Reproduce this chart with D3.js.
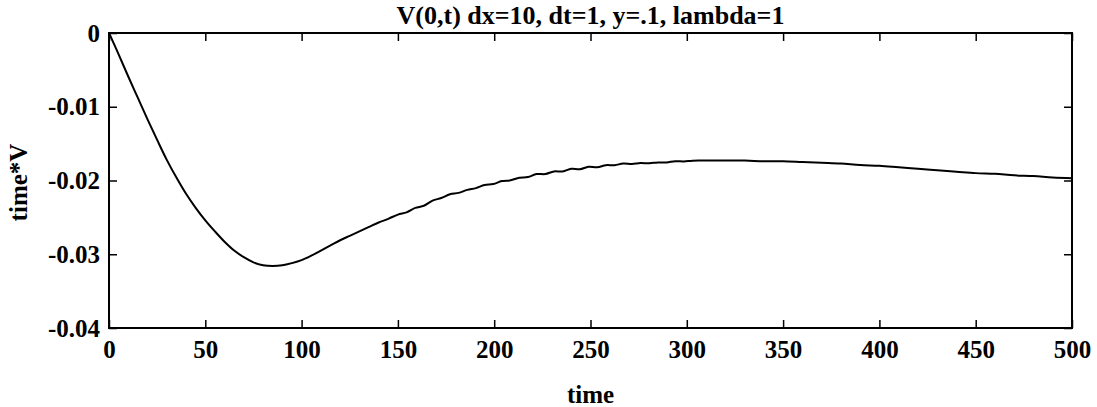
<!DOCTYPE html>
<html>
<head>
<meta charset="utf-8">
<script src="https://cdn.jsdelivr.net/npm/d3@7"></script>
<style>
  body { margin: 0; background: #fff; }
  text { font-family: "Liberation Serif", "Times New Roman", serif; font-weight: bold; fill: #000; }
</style>
</head>
<body>
<div id="container"></div>
<script>
/* DATA */
const time = [0, 5, 10, 15, 20, 25, 30, 35, 40, 45, 50, 55, 60, 65, 70, 75, 80, 85, 90, 95,
  100, 105, 110, 115, 120, 125, 130, 135, 140, 145,
  150, 154.5, 159, 163.5, 168, 172.5, 177, 181.5, 186, 190.5, 195, 199.5, 204, 208.5,
  213, 217.5, 222, 226.5, 231, 235.5, 240, 244.5, 249, 253.5, 258, 262.5, 267, 271.5,
  276, 280.5, 285, 289.5, 294, 298.5, 303,
  310, 320, 330, 340, 350, 360, 370, 380, 390, 400, 410, 420, 430, 440, 450, 460, 470, 480, 490, 500];
const timeV = [0, -0.0029, -0.0059, -0.0088, -0.0117, -0.0145, -0.0172, -0.0196, -0.0218, -0.0237,
  -0.0254, -0.0269, -0.0283, -0.0295, -0.0304, -0.0311, -0.0315, -0.0316, -0.0315, -0.0312,
  -0.0308, -0.0302, -0.0295, -0.0288, -0.0281, -0.0275, -0.0269, -0.0263, -0.0257, -0.0252,
  -0.02462, -0.02433, -0.02372, -0.02343, -0.02272, -0.02238, -0.02187, -0.02168, -0.02127, -0.02103,
  -0.02062, -0.02048, -0.02008, -0.01998, -0.01962, -0.01953, -0.01912, -0.01913, -0.01877, -0.01878,
  -0.01842, -0.01848, -0.01814, -0.01821, -0.01792, -0.01793, -0.01770, -0.01775, -0.01763, -0.01767,
  -0.01755, -0.01755, -0.01738, -0.01742, -0.01731,
  -0.0173, -0.0173, -0.0173, -0.0174, -0.0174, -0.0175, -0.0176, -0.0177, -0.0179, -0.0180,
  -0.0182, -0.0184, -0.0186, -0.0188, -0.0190, -0.0191, -0.0193, -0.0194, -0.0196, -0.0197];
const xTicks = [0, 50, 100, 150, 200, 250, 300, 350, 400, 450, 500];
const yTicks = [0, -0.01, -0.02, -0.03, -0.04];
const yTickLabels = ["0", "-0.01", "-0.02", "-0.03", "-0.04"];

/* CONSTANTS */
const W = 1097, H = 407;
const margin = {top: 33, right: 25, bottom: 79, left: 109};
const width = W - margin.left - margin.right;
const height = H - margin.top - margin.bottom;

const svg = d3.select("#container").append("svg")
    .attr("width", W)
    .attr("height", H)
  .append("g")
    .attr("transform", "translate(" + margin.left + "," + margin.top + ")");

const xScale = d3.scaleLinear().domain([0, 500]).range([0, width]);
const yScale = d3.scaleLinear().domain([-0.04, 0]).range([height, 0]);

// bottom axis, ticks pointing in
const xAxis = svg.append("g")
    .attr("transform", "translate(0," + height + ")")
    .call(d3.axisBottom(xScale).tickValues(xTicks).tickSize(-8).tickSizeOuter(0).tickPadding(12));
xAxis.select(".domain").remove();
xAxis.selectAll("line").attr("stroke-width", 1.5);
xAxis.selectAll("text").style("font-size", "25px").attr("font-family", null);

// top ticks
const xTop = svg.append("g")
    .call(d3.axisTop(xScale).tickValues(xTicks).tickSize(-8).tickSizeOuter(0).tickFormat(""));
xTop.select(".domain").remove();
xTop.selectAll("line").attr("stroke-width", 1.5);

// left axis
const yAxis = svg.append("g")
    .call(d3.axisLeft(yScale).tickValues(yTicks).tickSize(-8).tickSizeOuter(0).tickPadding(9)
      .tickFormat((d, i) => yTickLabels[i]));
yAxis.select(".domain").remove();
yAxis.selectAll("line").attr("stroke-width", 1.5);
yAxis.selectAll("text").style("font-size", "25px").attr("font-family", null);

// right ticks
const yRight = svg.append("g")
    .attr("transform", "translate(" + width + ",0)")
    .call(d3.axisRight(yScale).tickValues(yTicks).tickSize(-8).tickSizeOuter(0).tickFormat(""));
yRight.select(".domain").remove();
yRight.selectAll("line").attr("stroke-width", 1.5);

// frame
svg.append("rect")
    .attr("x", 0).attr("y", 0)
    .attr("width", width).attr("height", height)
    .attr("fill", "none")
    .attr("stroke", "#000")
    .attr("stroke-width", 2);

// the curve
const pts = time.map((t, i) => [t, timeV[i]]);
const line = d3.line()
    .x(d => xScale(d[0]))
    .y(d => yScale(d[1]))
    .curve(d3.curveCatmullRom.alpha(0.5));

svg.append("path")
    .datum(pts)
    .attr("fill", "none")
    .attr("stroke", "#000")
    .attr("stroke-width", 2)
    .attr("d", line);

// title and labels
svg.append("text")
    .attr("x", width / 2)
    .attr("y", -9)
    .attr("text-anchor", "middle")
    .style("font-size", "26px")
    .text("V(0,t) dx=10, dt=1, y=.1, lambda=1");

svg.append("text")
    .attr("x", width / 2)
    .attr("y", height + 75)
    .attr("text-anchor", "middle")
    .style("font-size", "25px")
    .text("time");

svg.append("text")
    .attr("transform", "translate(" + (-82) + "," + (height / 2 + 2) + ") rotate(-90)")
    .attr("text-anchor", "middle")
    .style("font-size", "25px")
    .text("time*V");
</script>
</body>
</html>
